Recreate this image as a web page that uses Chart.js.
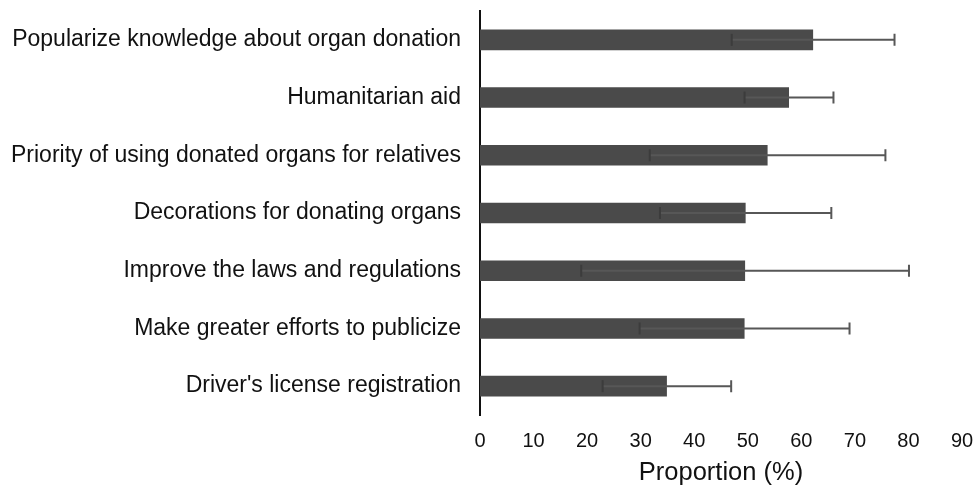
<!DOCTYPE html>
<html>
<head>
<meta charset="utf-8">
<script src="https://cdn.jsdelivr.net/npm/chart.js@4/dist/chart.umd.min.js"></script>
<style>
  html, body { margin: 0; padding: 0; background: #ffffff; }
  #wrap { width: 979px; height: 486px; }
</style>
</head>
<body>
<div id="wrap"><canvas id="chart" width="979" height="486"></canvas></div>
<script>
// Measures to promote organ donation: proportion (%) with error bars
const categories = [
  "Popularize knowledge about organ donation",
  "Humanitarian aid",
  "Priority of using donated organs for relatives",
  "Decorations for donating organs",
  "Improve the laws and regulations",
  "Make greater efforts to publicize",
  "Driver's license registration"
];
const proportions = [62.2, 57.7, 53.7, 49.6, 49.5, 49.4, 34.9];
const errors = [15.2, 8.3, 22.0, 16.0, 30.6, 19.6, 12.0];
const xTicks = [0, 10, 20, 30, 40, 50, 60, 70, 80, 90];

// Draws horizontal error bars (whisker line plus end caps) over each bar
const errorBars = {
  id: 'errorBars',
  afterDatasetsDraw(chart) {
    const ctx = chart.ctx;
    const xs = chart.scales.x;
    const meta = chart.getDatasetMeta(0);
    ctx.save();
    ctx.lineWidth = 2;
    meta.data.forEach((bar, i) => {
      const v = proportions[i];
      const e = errors[i];
      const y = bar.y;
      const lo = xs.getPixelForValue(v - e);
      const hi = xs.getPixelForValue(v + e);
      const cap = 6;
      ctx.strokeStyle = '#575757';
      ctx.beginPath();
      ctx.moveTo(lo, y);
      ctx.lineTo(hi, y);
      ctx.moveTo(hi, y - cap);
      ctx.lineTo(hi, y + cap);
      ctx.stroke();
      ctx.strokeStyle = '#3c3c3c';
      ctx.beginPath();
      ctx.moveTo(lo, y - cap);
      ctx.lineTo(lo, y + cap);
      ctx.stroke();
    });
    ctx.restore();
  }
};

const fontFamily = "'Liberation Sans', Arial, sans-serif";

new Chart(document.getElementById('chart'), {
  type: 'bar',
  data: {
    labels: categories,
    datasets: [{
      data: proportions,
      backgroundColor: '#4a4a4a',
      borderWidth: 0,
      categoryPercentage: 1.0,
      barPercentage: 0.356
    }]
  },
  options: {
    indexAxis: 'y',
    responsive: false,
    animation: false,
    events: [],
    layout: { padding: { top: 11, right: 17, bottom: 0, left: 0 } },
    plugins: {
      legend: { display: false },
      tooltip: { enabled: false }
    },
    scales: {
      x: {
        min: 0,
        max: 90,
        afterBuildTicks(scale) {
          scale.ticks = xTicks.map(v => ({ value: v }));
        },
        grid: { display: false, drawTicks: false },
        border: { display: false },
        ticks: {
          color: '#111111',
          font: { family: fontFamily, size: 20 },
          padding: 14
        },
        title: {
          display: true,
          text: 'Proportion (%)',
          color: '#111111',
          font: { family: fontFamily, size: 25.5, lineHeight: 1.0 },
          padding: { top: 0, bottom: 0 }
        },
        afterFit(scale) {
          scale.height = 71;
          scale.paddingLeft = 0;
          scale.paddingRight = 0;
        }
      },
      y: {
        grid: { display: false, drawTicks: false },
        border: { display: true, color: '#111111', width: 2 },
        ticks: {
          color: '#111111',
          font: { family: fontFamily, size: 23 },
          padding: 19
        },
        afterFit(scale) {
          scale.width = 480;
          scale.paddingTop = 0;
          scale.paddingBottom = 0;
        }
      }
    }
  },
  plugins: [errorBars]
});
</script>
</body>
</html>
